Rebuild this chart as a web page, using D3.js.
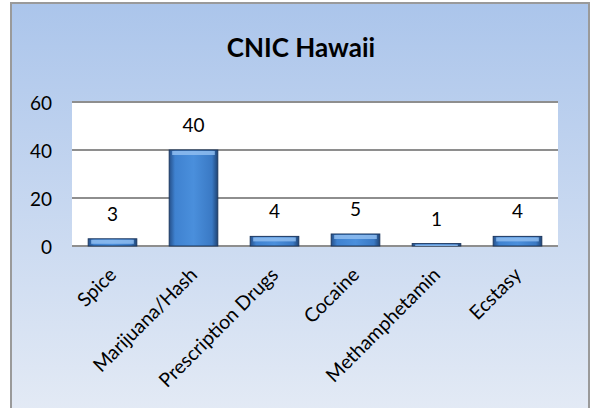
<!DOCTYPE html>
<html><head><meta charset="utf-8">
<script src="https://cdn.jsdelivr.net/npm/d3@7"></script>
<style>html,body{margin:0;padding:0;background:#fff}svg{display:block}</style>
</head><body>
<script>
const categories = ["Spice","Marijuana/Hash","Prescription Drugs","Cocaine","Methamphetamin","Ecstasy"];
const values = [3,40,4,5,1,4];
const yTicks = [0,20,40,60];
const title = "CNIC Hawaii";

const W=592,H=408;
const svg=d3.select("body").append("svg").attr("width",W).attr("height",H);
const defs=svg.append("defs");
const bg=defs.append("linearGradient").attr("id","bg").attr("x1",0).attr("y1",0).attr("x2",0).attr("y2",1);
bg.append("stop").attr("offset","0%").attr("stop-color","#abc5eb");
bg.append("stop").attr("offset","100%").attr("stop-color","#e3eaf5");
const bar=defs.append("linearGradient").attr("id","bar").attr("x1",0).attr("y1",0).attr("x2",1).attr("y2",0);
bar.append("stop").attr("offset","0%").attr("stop-color","#25508a");
bar.append("stop").attr("offset","12%").attr("stop-color","#3f82d0");
bar.append("stop").attr("offset","50%").attr("stop-color","#4a8fdc");
bar.append("stop").attr("offset","88%").attr("stop-color","#3a79c4");
bar.append("stop").attr("offset","100%").attr("stop-color","#1f4475");

const font="Lato, 'Open Sans', sans-serif";
svg.append("rect").attr("x",11).attr("y",3).attr("width",578).attr("height",H).attr("fill","url(#bg)").attr("stroke","#9a9a9a").attr("stroke-width",2);

const L=72,R=558,T=102,B=246;
const x=d3.scaleBand().domain(categories).range([L,R]).paddingInner(0.4).paddingOuter(0.2);
const y=d3.scaleLinear().domain([0,60]).range([B,T]);

svg.append("rect").attr("x",L).attr("y",T).attr("width",R-L).attr("height",B-T).attr("fill","#fff");

svg.append("g").selectAll("line").data(yTicks).join("line")
  .attr("x1",L).attr("x2",R).attr("y1",d=>y(d)).attr("y2",d=>y(d))
  .attr("stroke","#8e8e8e").attr("stroke-width",2);

const yAxis=d3.axisLeft(y).tickValues(yTicks).tickSize(0).tickPadding(0);
const ya=svg.append("g").attr("transform",`translate(52,0)`).call(yAxis);
ya.select(".domain").remove();
ya.selectAll("text").attr("font-family",font).attr("font-size",19).attr("fill","#000").attr("dy","0.42em");

const bars=svg.append("g").selectAll("g").data(categories).join("g");
bars.append("rect")
  .attr("x",d=>x(d)).attr("width",x.bandwidth())
  .attr("y",(d,i)=>y(values[i])).attr("height",(d,i)=>B-y(values[i]))
  .attr("fill","url(#bar)").attr("stroke","#1d3860").attr("stroke-width",1);
bars.append("rect")
  .attr("x",d=>x(d)+3).attr("width",x.bandwidth()-6)
  .attr("y",(d,i)=>y(values[i])+1).attr("height",(d,i)=>Math.max(0,Math.min(4,B-y(values[i])-1)))
  .attr("fill","#8fbdf0").attr("opacity",0.85);

svg.append("g").selectAll("text").data(categories).join("text")
  .attr("x",d=>x(d)+x.bandwidth()/2).attr("y",(d,i)=>y(values[i])-18)
  .attr("text-anchor","middle").attr("font-family",font).attr("font-size",19).attr("fill","#000")
  .text((d,i)=>values[i]);

const xAxis=d3.axisBottom(x).tickSize(0).tickPadding(0);
const xa=svg.append("g").attr("transform",`translate(0,${B})`).call(xAxis);
xa.select(".domain").remove();
xa.selectAll("text").attr("font-family",font).attr("font-size",19.5).attr("fill","#000")
  .attr("text-anchor","end").attr("dy",null).attr("y",0)
  .attr("transform","translate(5,30) rotate(-45)");

svg.append("text").attr("x",301).attr("y",57).attr("text-anchor","middle")
  .attr("font-family",font).attr("font-weight","bold").attr("font-size",26).attr("fill","#000").text(title);
</script>
</body></html>
